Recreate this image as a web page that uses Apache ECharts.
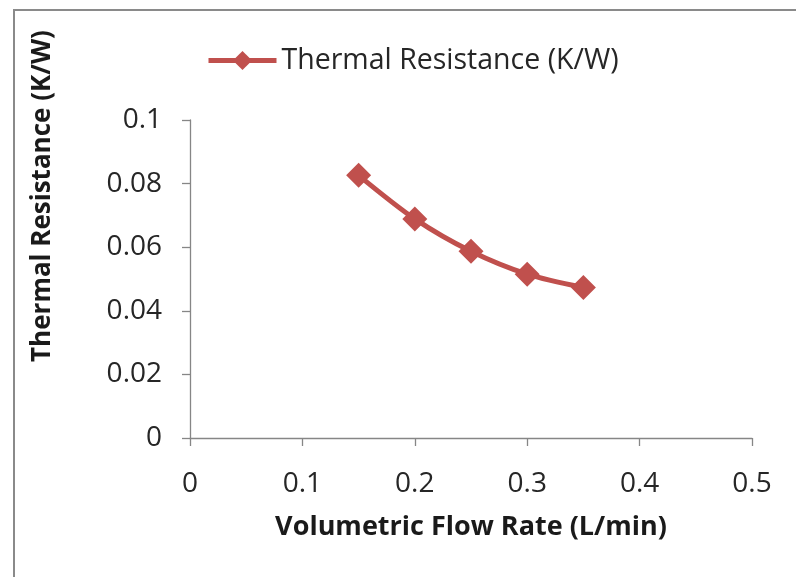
<!DOCTYPE html>
<html>
<head>
<meta charset="utf-8">
<script src="https://cdn.jsdelivr.net/npm/echarts@6/dist/echarts.min.js"></script>
<style>
html,body{margin:0;padding:0;background:#fff;}
#chart{width:796px;height:577px;}
</style>
</head>
<body>
<div id="chart"></div>
<script>
var flowRates = [0.15, 0.20, 0.25, 0.30, 0.35];
var resistance = [0.0826, 0.0689, 0.0587, 0.0515, 0.0473];
var seriesName = 'Thermal Resistance (K/W)';
var xTitle = 'Volumetric Flow Rate (L/min)';
var yTitle = 'Thermal Resistance (K/W)';
var xTickLabels = ['0', '0.1', '0.2', '0.3', '0.4', '0.5'];
var yTickLabels = ['0', '0.02', '0.04', '0.06', '0.08', '0.1'];

var FONT = '"Open Sans", "Liberation Sans", sans-serif';
var chart = echarts.init(document.getElementById('chart'), null, {renderer: 'canvas'});
var pts = flowRates.map(function (x, i) { return [x, resistance[i]]; });

chart.setOption({
  animation: false,
  backgroundColor: '#ffffff',
  grid: {left: 190, right: 44, top: 120, bottom: 139, containLabel: false},
  legend: {
    left: 201, top: 41, padding: 5,
    itemWidth: 68, itemHeight: 24, itemGap: 5,
    textStyle: {fontFamily: FONT, fontSize: 28.5, color: '#262626'},
    lineStyle: {width: 5, color: '#C0504D'},
    data: [seriesName]
  },
  xAxis: {
    type: 'value', min: 0, max: 0.5, interval: 0.1,
    name: xTitle, nameLocation: 'middle', nameGap: 76,
    nameTextStyle: {fontFamily: FONT, fontSize: 27, fontWeight: 'bold', color: '#1a1a1a'},
    axisLine: {show: true, lineStyle: {color: '#868686', width: 1.3}},
    axisTick: {show: true, length: 8, lineStyle: {color: '#868686', width: 1.3}},
    axisLabel: {margin: 32, fontFamily: FONT, fontSize: 28, color: '#262626',
      formatter: function (v) { return xTickLabels[Math.round(v * 10)]; }},
    splitLine: {show: false}
  },
  yAxis: {
    type: 'value', min: 0, max: 0.1, interval: 0.02,
    axisLine: {show: true, lineStyle: {color: '#868686', width: 1.3}},
    axisTick: {show: true, length: 8, lineStyle: {color: '#868686', width: 1.3}},
    axisLabel: {margin: 28, fontFamily: FONT, fontSize: 28, color: '#262626',
      formatter: function (v) { return yTickLabels[Math.round(v * 50)]; }},
    splitLine: {show: false}
  },
  graphic: [
    {type: 'rect', silent: true, shape: {x: 14, y: 10, width: 900, height: 700},
      style: {fill: 'none', stroke: '#8a8a8a', lineWidth: 2}},
    {type: 'text', x: 43, y: 196, rotation: Math.PI / 2,
      style: {text: yTitle, align: 'center', verticalAlign: 'middle',
        font: 'bold 26px ' + FONT, fill: '#1a1a1a'}}
  ],
  series: [{
    name: seriesName, type: 'line', data: pts,
    smooth: 0.3,
    symbol: 'diamond', symbolSize: 25,
    lineStyle: {color: '#C0504D', width: 5},
    itemStyle: {color: '#C0504D'}
  }]
});
</script>
</body>
</html>
